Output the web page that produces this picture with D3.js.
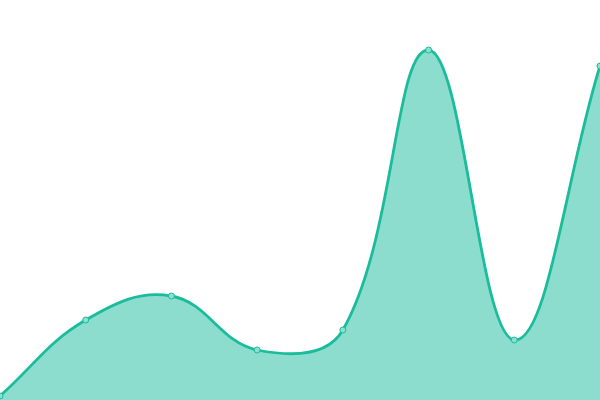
<!DOCTYPE html>
<html><head><meta charset="utf-8">
<script src="https://cdn.jsdelivr.net/npm/d3@7"></script>
<style>html,body{margin:0;padding:0;background:#fff;}svg{display:block;}</style>
</head><body>
<svg id="chart" width="600" height="400"></svg>
<script>
const categories = ["A","B","C","D","E","F","G","H"];
const values = [4, 80, 104, 50, 70, 350, 60, 334];

const W = 600, H = 400;
const TENSION = 0.4;

// Spline curve (distance-weighted control points, like Chart.js "tension")
function SplineCurve(context) { this._context = context; }
SplineCurve.prototype = {
  areaStart() { this._line = 0; },
  areaEnd() { this._line = NaN; },
  lineStart() { this._pts = []; },
  point(x, y) { this._pts.push([+x, +y]); },
  lineEnd() {
    const p = this._pts, n = p.length, ctx = this._context;
    if (n) {
      if (this._line) ctx.lineTo(p[0][0], p[0][1]); else ctx.moveTo(p[0][0], p[0][1]);
      const cps = p.map((c, i) => {
        const prev = p[i - 1] || c, next = p[i + 1] || c;
        const d01 = Math.hypot(c[0] - prev[0], c[1] - prev[1]);
        const d12 = Math.hypot(next[0] - c[0], next[1] - c[1]);
        let fa = d01 / (d01 + d12), fb = d12 / (d01 + d12);
        if (!isFinite(fa)) fa = 0; if (!isFinite(fb)) fb = 0;
        fa *= TENSION; fb *= TENSION;
        const dx = next[0] - prev[0], dy = next[1] - prev[1];
        return {
          p: [c[0] - fa * dx, c[1] - fa * dy],
          n: [c[0] + fb * dx, c[1] + fb * dy]
        };
      });
      for (let i = 0; i < n - 1; i++) {
        ctx.bezierCurveTo(cps[i].n[0], cps[i].n[1], cps[i + 1].p[0], cps[i + 1].p[1], p[i + 1][0], p[i + 1][1]);
      }
    }
    if (this._line || (this._line !== 0 && n === 1)) ctx.closePath();
    this._line = 1 - this._line;
  }
};
const curve = ctx => new SplineCurve(ctx);

const svg = d3.select("#chart");
const x = d3.scalePoint().domain(categories).range([0, W]);
const y = d3.scaleLinear().domain([0, 400]).range([H, 0]);
const data = categories.map((c, i) => ({c, v: values[i]}));

svg.append("path").datum(data)
  .attr("d", d3.area().x(d => x(d.c)).y0(H).y1(d => y(d.v)).curve(curve))
  .attr("fill", "#1abc9c").attr("fill-opacity", 0.5);
svg.append("path").datum(data)
  .attr("d", d3.line().x(d => x(d.c)).y(d => y(d.v)).curve(curve))
  .attr("fill", "none").attr("stroke", "#1abc9c").attr("stroke-width", 2.8);
svg.selectAll("circle").data(data).join("circle")
  .attr("cx", d => x(d.c)).attr("cy", d => y(d.v)).attr("r", 3)
  .attr("fill", "#8be0cf").attr("stroke", "#1abc9c").attr("stroke-width", 1);
</script>
</body></html>
